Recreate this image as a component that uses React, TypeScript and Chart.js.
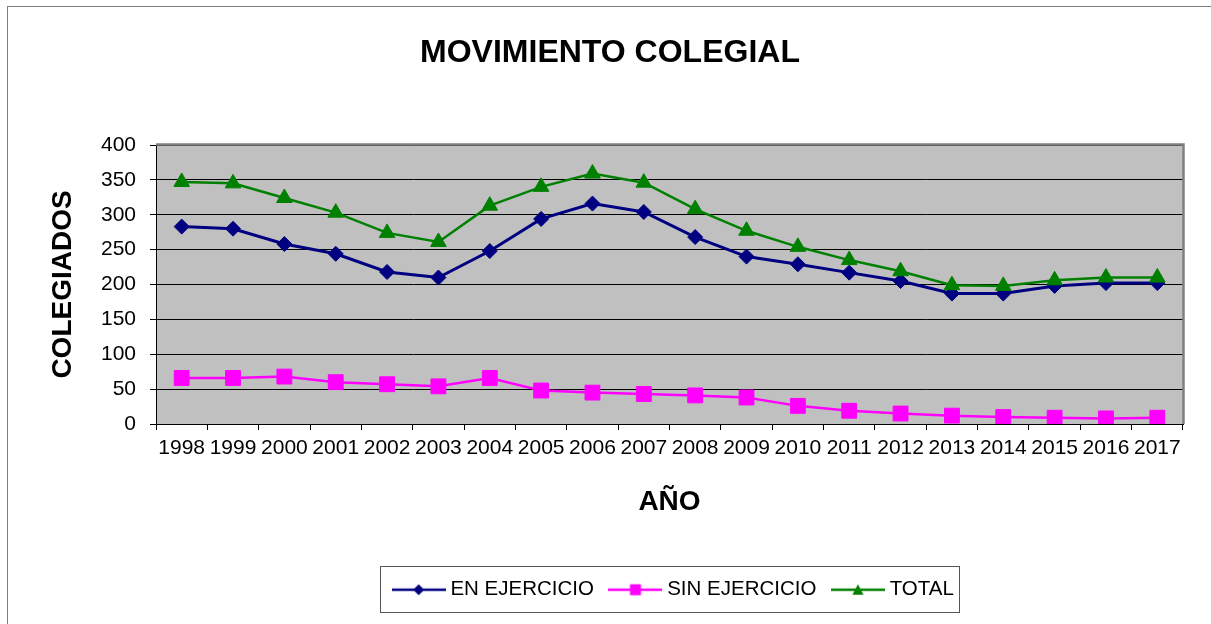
import React, { useEffect, useRef } from 'react';
import { Chart, registerables } from 'chart.js';

Chart.register(...registerables);

const categories = ['1998', '1999', '2000', '2001', '2002', '2003', '2004', '2005', '2006', '2007', '2008', '2009', '2010', '2011', '2012', '2013', '2014', '2015', '2016', '2017'];
const enEjercicio = [283, 280, 258, 244, 218, 210, 248, 294, 316, 304, 268, 240, 229, 217, 205, 187, 187, 198, 202, 202];
const sinEjercicio = [66, 66, 68, 60, 57, 54, 66, 48, 45, 43, 41, 38, 26, 19, 15, 12, 10, 9, 8, 9];
const total = [347, 345, 324, 303, 274, 261, 313, 340, 359, 346, 308, 277, 254, 235, 219, 199, 198, 206, 210, 210];
const seriesNames = ['EN EJERCICIO', 'SIN EJERCICIO', 'TOTAL'];
const chartTitle = 'MOVIMIENTO COLEGIAL';
const yTitle = 'COLEGIADOS';
const xTitle = 'AÑO';
const yMin = 0;
const yMax = 400;
const yStep = 50;

const FONT = '"Liberation Sans", Arial, Helvetica, sans-serif';
const NAVY = '#000080';
const MAGENTA = '#FF00FF';
const GREEN = '#008000';

function makeLegendIcon(color: string, style: string, lw: number) {
  const c = document.createElement('canvas');
  c.width = 54;
  c.height = 20;
  const ctx = c.getContext('2d')!;
  ctx.strokeStyle = color;
  ctx.lineWidth = lw;
  ctx.beginPath();
  ctx.moveTo(0, 10);
  ctx.lineTo(54, 10);
  ctx.stroke();
  ctx.fillStyle = color;
  ctx.beginPath();
  if (style === 'diamond') {
    ctx.moveTo(27, 4.5);
    ctx.lineTo(32.5, 10);
    ctx.lineTo(27, 15.5);
    ctx.lineTo(21.5, 10);
  } else if (style === 'square') {
    ctx.rect(21.5, 4.5, 11, 11);
  } else {
    ctx.moveTo(27, 4.5);
    ctx.lineTo(32.5, 15);
    ctx.lineTo(21.5, 15);
  }
  ctx.closePath();
  ctx.fill();
  return c;
}

const LEGEND_PAD = 20;
const LEGEND_FONT = 20.5;

const framePlugin = {
  id: 'excelFrame',
  beforeDraw(chart: any) {
    const ctx = chart.ctx;
    const a = chart.chartArea;
    ctx.save();
    ctx.fillStyle = '#ffffff';
    ctx.fillRect(0, 0, chart.width, chart.height);
    ctx.strokeStyle = '#7f7f7f';
    ctx.lineWidth = 1;
    ctx.strokeRect(7.5, 6.5, chart.width + 20, chart.height + 20);
    ctx.fillStyle = '#c0c0c0';
    ctx.fillRect(a.left, a.top, a.right - a.left, a.bottom - a.top);
    ctx.restore();
  },
  beforeDatasetsDraw(chart: any) {
    const ctx = chart.ctx;
    const a = chart.chartArea;
    ctx.save();
    ctx.strokeStyle = '#808080';
    ctx.lineWidth = 2.5;
    ctx.beginPath();
    ctx.moveTo(a.left, a.top - 0.5);
    ctx.lineTo(a.right + 0.5, a.top - 0.5);
    ctx.lineTo(a.right + 0.5, a.bottom);
    ctx.stroke();
    ctx.restore();
  },
  afterLayout(chart: any) {
    const lg = chart.legend;
    if (lg) {
      lg.left += 6;
      lg.right += 6;
    }
  },
  afterDraw(chart: any) {
    const lg = chart.legend;
    if (!lg || !lg.lineWidths) return;
    const ctx = chart.ctx;
    const lw = lg.lineWidths[0];
    const startX = (lg.left + LEGEND_PAD + lg.right - lw) / 2;
    const cy = lg.top + LEGEND_PAD + LEGEND_FONT / 2;
    const left = Math.round(startX - 17) + 0.5;
    const right = Math.round(startX + lw - LEGEND_PAD + 5) + 0.5;
    ctx.save();
    ctx.strokeStyle = '#555555';
    ctx.lineWidth = 1;
    ctx.strokeRect(left, Math.round(cy - 23.5) + 0.5, right - left, 46);
    ctx.restore();
  },
};

export default function App() {
  const ref = useRef<HTMLCanvasElement>(null);

  useEffect(() => {
    const canvas = ref.current;
    if (!canvas) return;
    const icons = [
      makeLegendIcon(NAVY, 'diamond', 2.5),
      makeLegendIcon(MAGENTA, 'square', 2.5),
      makeLegendIcon(GREEN, 'triangle', 2.5),
    ];
    const chart = new Chart(canvas, {
      type: 'line',
      data: {
        labels: categories,
        datasets: [
          {
            label: seriesNames[0],
            data: enEjercicio,
            borderColor: NAVY,
            backgroundColor: NAVY,
            borderWidth: 3,
            pointStyle: 'rectRot',
            pointRadius: 7.5,
            pointBorderWidth: 1,
            pointBorderColor: NAVY,
            pointBackgroundColor: NAVY,
            tension: 0,
            order: 2,
          },
          {
            label: seriesNames[1],
            data: sinEjercicio,
            borderColor: MAGENTA,
            backgroundColor: MAGENTA,
            borderWidth: 2.5,
            pointStyle: 'rect',
            pointRadius: 10.5,
            pointBorderWidth: 1,
            pointBorderColor: MAGENTA,
            pointBackgroundColor: MAGENTA,
            tension: 0,
            order: 1,
          },
          {
            label: seriesNames[2],
            data: total,
            borderColor: GREEN,
            backgroundColor: GREEN,
            borderWidth: 2.5,
            pointStyle: 'triangle',
            pointRadius: 9,
            pointBorderWidth: 1,
            pointBorderColor: GREEN,
            pointBackgroundColor: GREEN,
            tension: 0,
            order: 0,
          },
        ],
      },
      options: {
        responsive: false,
        animation: false,
        devicePixelRatio: 1,
        events: [],
        layout: { padding: { left: 37, right: 28, top: 0, bottom: 14 } },
        plugins: {
          tooltip: { enabled: false },
          title: {
            display: true,
            text: chartTitle,
            color: '#000000',
            font: { family: FONT, size: 32, weight: 'bold' },
            padding: { top: 33.8, bottom: 72.8 },
          },
          legend: {
            display: true,
            position: 'bottom',
            fullSize: false,
            labels: {
              usePointStyle: true,
              pointStyleWidth: 43,
              padding: LEGEND_PAD,
              color: '#000000',
              font: { family: FONT, size: LEGEND_FONT },
              generateLabels: (c: any) =>
                c.data.datasets.map((ds: any, i: number) => ({
                  text: ds.label,
                  fillStyle: ds.borderColor,
                  strokeStyle: ds.borderColor,
                  lineWidth: 0,
                  pointStyle: icons[i],
                  hidden: !c.isDatasetVisible(i),
                  datasetIndex: i,
                  fontColor: '#000000',
                })),
            },
          },
        },
        scales: {
          x: {
            type: 'category',
            offset: true,
            grid: {
              display: true,
              offset: true,
              drawOnChartArea: false,
              drawTicks: true,
              tickLength: 6,
              tickColor: '#000000',
              color: '#000000',
            },
            border: { display: true, color: '#000000', width: 1 },
            ticks: {
              autoSkip: false,
              maxRotation: 0,
              minRotation: 0,
              padding: 5.4,
              color: '#000000',
              font: { family: FONT, size: 21 },
            },
            title: {
              display: true,
              text: xTitle,
              color: '#000000',
              font: { family: FONT, size: 28, weight: 'bold' },
              padding: { top: 0, bottom: 40.2 },
            },
            afterFit: (scale: any) => {
              scale.height = 135.5;
            },
          },
          y: {
            min: yMin,
            max: yMax,
            grid: {
              color: '#000000',
              lineWidth: 1,
              drawTicks: true,
              tickLength: 6,
              tickColor: '#000000',
            },
            border: { display: true, color: '#000000', width: 1 },
            ticks: {
              stepSize: yStep,
              padding: 14,
              color: '#000000',
              font: { family: FONT, size: 21 },
            },
            title: {
              display: true,
              text: yTitle,
              color: '#000000',
              font: { family: FONT, size: 28, weight: 'bold' },
              padding: { top: 9.2, bottom: 0 },
            },
            afterFit: (scale: any) => {
              scale.width = 119;
            },
          },
        },
      },
      plugins: [framePlugin],
    } as any);
    return () => chart.destroy();
  }, []);

  return (
    <div style={{ position: 'absolute', left: 0, top: 0, width: 1211, height: 624 }}>
      <canvas ref={ref} width={1211} height={624} style={{ display: 'block', width: 1211, height: 624 }} />
    </div>
  );
}
